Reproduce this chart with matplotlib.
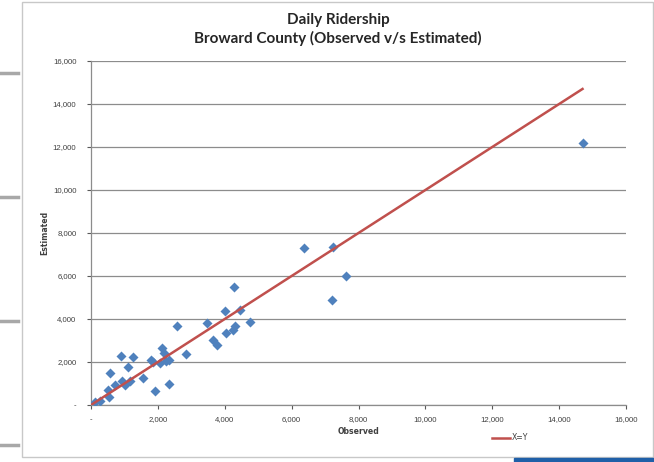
import matplotlib.pyplot as plt
from matplotlib.lines import Line2D
from matplotlib.patches import Rectangle
from matplotlib.ticker import FuncFormatter

# Daily ridership, observed counts vs. model estimates
observed = [120, 270, 519, 549, 569, 729, 909, 919, 1019, 1119, 1169, 1269,
            1558, 1788, 1848, 1918, 2057, 2127, 2177, 2247, 2337, 2347, 2567,
            2836, 3456, 3635, 3775, 3995, 4035, 4235, 4265, 4295, 4464, 4764,
            6362, 7251, 7200, 7620, 14700]
estimated = [124, 171, 698, 388, 1488, 930, 2264, 1101, 930, 1783, 1101, 2233,
             1271, 2093, 2016, 667, 1969, 2667, 2434, 2062, 961, 2093, 3674,
             2388, 3829, 3023, 2775, 4386, 3364, 3488, 5504, 3674, 4419, 3860,
             7318, 7333, 4884, 6000, 12200]
xy_line = [0, 14700]
ticks = list(range(0, 16001, 2000))

W, H = 654, 462
fig = plt.figure(figsize=(W / 100, H / 100), dpi=100)
fig.patch.set_facecolor('white')

# chart frame and the slide decorations around it
fig.add_artist(Rectangle((22 / W, 1 - 457 / H), (653 - 22) / W, (457 - 2) / H,
                         transform=fig.transFigure, fill=False,
                         edgecolor='#c8c8c8', linewidth=1))
for yy in [73, 197, 321, 445]:
    fig.add_artist(Line2D([0, 18 / W], [1 - yy / H] * 2, transform=fig.transFigure,
                          color='#a8a8a8', linewidth=2.5))
fig.add_artist(Rectangle((514 / W, 0), (W - 514) / W, 4 / H,
                         transform=fig.transFigure, color='#1f5fa8'))

ax = fig.add_axes([91 / W, 1 - 405 / H, (626 - 91) / W, (405 - 61) / H])
ax.scatter(observed, estimated, marker='D', s=26, color='#4f81bd',
           linewidths=0, zorder=3)
ln, = ax.plot(xy_line, xy_line, color='#c0504d', linewidth=1.8, zorder=4,
              label='X=Y')

ax.set_xlim(0, 16000)
ax.set_ylim(0, 16000)
ax.set_xticks(ticks)
ax.set_yticks(ticks)
fmt = FuncFormatter(lambda v, p: '-' if v == 0 else f'{int(v):,}')
ax.xaxis.set_major_formatter(fmt)
ax.yaxis.set_major_formatter(fmt)
ax.tick_params(labelsize=5.6, colors='#595959', labelcolor='#404040',
               length=3, width=0.8)
ax.tick_params(axis='y', pad=7.5)
ax.tick_params(axis='x', pad=5)
for lab in ax.get_xticklabels() + ax.get_yticklabels():
    lab.set_family('Liberation Sans')
ax.yaxis.grid(True, color='#8c8c8c', linewidth=0.9)
ax.set_axisbelow(True)
for s in ['top', 'right']:
    ax.spines[s].set_visible(False)
for s in ['left', 'bottom']:
    ax.spines[s].set_color('#8c8c8c')
    ax.spines[s].set_linewidth(0.9)

ax.set_xlabel('Observed', fontsize=5.6, fontweight='bold', color='#404040')
ax.set_ylabel('Estimated', fontsize=5.6, fontweight='bold', color='#404040')
ax.xaxis.set_label_coords(0.5, -(427 - 405) / 344)
ax.yaxis.set_label_coords(-(91 - 49) / 535, 0.5)

fig.text(338 / W, 1 - 20 / H, 'Daily Ridership', ha='center', va='center',
         fontsize=11, fontweight='bold', family='Lato', color='#262626')
fig.text(338 / W, 1 - 38 / H, 'Broward County (Observed v/s Estimated)',
         ha='center', va='center', fontsize=11, fontweight='bold',
         family='Lato', color='#262626')

fig.legend(handles=[ln], loc='center', bbox_to_anchor=(510 / W, 1 - 438 / H),
           frameon=False, fontsize=5.6, handlelength=2.3, handletextpad=0.3,
           labelcolor='#404040')

fig.savefig('out.png', dpi=100)
